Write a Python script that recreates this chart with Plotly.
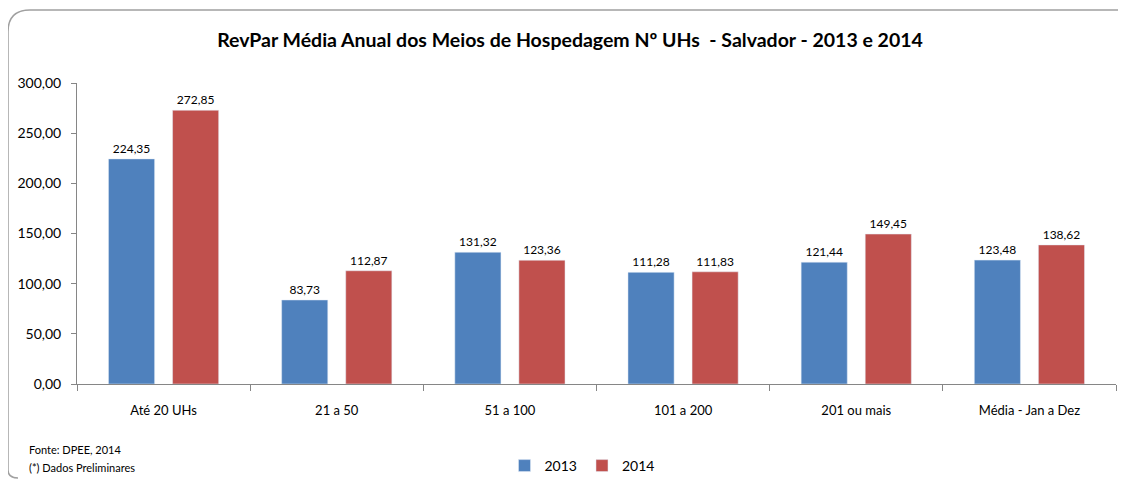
import plotly.graph_objects as go

categories = ["Até 20 UHs", "21 a 50", "51 a 100", "101 a 200", "201 ou mais", "Média - Jan a Dez"]
values_2013 = [224.35, 83.73, 131.32, 111.28, 121.44, 123.48]
values_2014 = [272.85, 112.87, 123.36, 111.83, 149.45, 138.62]
y_ticks = [0, 50, 100, 150, 200, 250, 300]

FONT = "Lato"
OFF = 8  # page body margin offset
W, H = 1126 - OFF, 479 - OFF
# plot area in window pixels: x 77..1116, y 83..384
L, R = 77 - OFF, W - (1116 - OFF)
T, B = 83 - OFF, H - (384 - OFF)

fig = go.Figure()
fig.add_trace(go.Bar(name="2013", x=categories, y=values_2013, marker_color="#4F81BD",
                     texttemplate="%{y:.2f}", textposition="outside",
                     textfont=dict(size=12, color="#000000"), cliponaxis=False))
fig.add_trace(go.Bar(name="2014", x=categories, y=values_2014, marker_color="#C0504D",
                     texttemplate="%{y:.2f}", textposition="outside",
                     textfont=dict(size=12, color="#000000"), cliponaxis=False))

pw = W - L - R
ph = H - T - B
def px(x):
    return (x - OFF - L) / pw
def py(y):
    return (H - B - (y - OFF)) / ph

# rounded border (window pixel coords)
x0, x1, y0, y1, r = 8, 1150, 10, 478, 22
path = (f"M {px(x0)},{py(y0 + r)} "
        f"Q {px(x0)},{py(y0)} {px(x0 + r)},{py(y0)} "
        f"L {px(x1)},{py(y0)} "
        f"M {px(x0)},{py(y0 + r)} L {px(x0)},{py(y1 - 8)} "
        f"Q {px(x0)},{py(y1)} {px(x0 + 10)},{py(y1)}")

fig.add_shape(type="path", path=path, xref="paper", yref="paper",
              line=dict(color="#A0A0A0", width=1.5))

fig.update_layout(
    width=W, height=H,
    margin=dict(l=L, r=R, t=T, b=B, autoexpand=False),
    paper_bgcolor="white", plot_bgcolor="white",
    separators=",.",
    font=dict(family=FONT, size=13, color="#000000"),
    title=dict(text="<b>RevPar Média Anual dos Meios de Hospedagem Nº UHs  - Salvador - 2013 e 2014</b>",
               x=px(570), xanchor="center", xref="paper",
               y=1 - (40 - OFF) / H, yanchor="middle",
               font=dict(family=FONT, size=19.5, color="#000000")),
    barmode="group", bargap=0.26, bargroupgap=0.28,
    showlegend=True,
    legend=dict(orientation="h", x=px(582), xanchor="center", y=py(466), yanchor="middle",
                font=dict(size=14), traceorder="normal", itemwidth=30),
    xaxis=dict(showline=True, linecolor="#868686", linewidth=1,
               ticks="outside", tickson="boundaries", ticklen=6, tickcolor="#868686",
               tickfont=dict(size=13), showgrid=False, ticklabelstandoff=14),
    yaxis=dict(range=[0, 300], tickvals=y_ticks, tickformat=".2f",
               showline=True, linecolor="#868686", linewidth=1,
               ticks="outside", ticklen=5, tickcolor="#868686",
               tickfont=dict(size=14), showgrid=False, zeroline=False,
               ticklabelstandoff=7),
    annotations=[
        dict(text="Fonte: DPEE, 2014", x=px(27), y=py(450), xref="paper", yref="paper",
             xanchor="left", yanchor="middle", showarrow=False, font=dict(size=11)),
        dict(text="(*) Dados Preliminares", x=px(27), y=py(467), xref="paper", yref="paper",
             xanchor="left", yanchor="middle", showarrow=False, font=dict(size=11)),
    ],
)

fig.write_html("out.html")
